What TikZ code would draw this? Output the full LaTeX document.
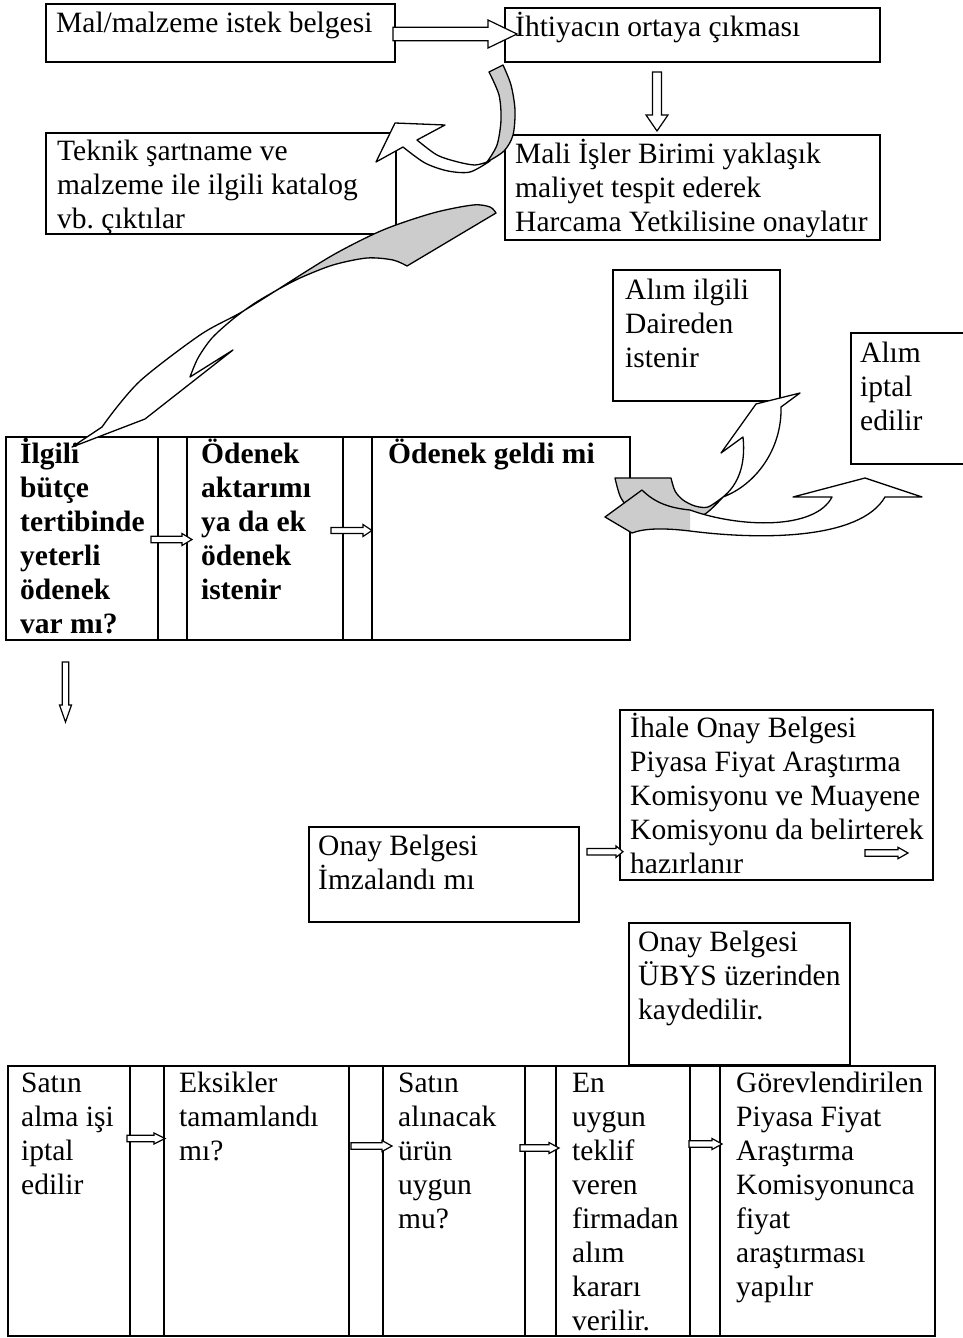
\documentclass[tikz,border=0pt]{standalone}
\usepackage{fontspec}
\setmainfont{Liberation Serif}
\newcommand\Rarr[6]{\draw[blk] (#1,{#3-#4}) -- ({#2-#6},{#3-#4}) -- ({#2-#6},{#3-#5}) -- (#2,#3) -- ({#2-#6},{#3+#5}) -- ({#2-#6},{#3+#4}) -- (#1,{#3+#4}) -- cycle;}
\newcommand\Darr[6]{\draw[blk] ({#3-#4},#1) -- ({#3-#4},{#2-#6}) -- ({#3-#5},{#2-#6}) -- (#3,#2) -- ({#3+#5},{#2-#6}) -- ({#3+#4},{#2-#6}) -- ({#3+#4},#1) -- cycle;}
\begin{document}
\begin{tikzpicture}[x=1pt,y=-1pt,
  box/.style={draw, line width=1.7pt, anchor=north west, inner sep=0pt, outer sep=0pt},
  txt/.style={anchor=base west, align=left, inner sep=0pt, font=\fontsize{29.5}{34}\selectfont},
  btxt/.style={anchor=base west, align=left, inner sep=0pt, font=\fontsize{29.5}{34}\selectfont\bfseries},
  blk/.style={draw, line width=1.2pt, fill=white, line join=miter},
  rib/.style={draw, line width=1.3pt, fill=white, line join=round},
  gr/.style={fill=gray!40}
]
\useasboundingbox (0,0) rectangle (963,1338);
\fill[white] (0,0) rectangle (963,1338);

% ---- boxes ----
\node[box, minimum width=349, minimum height=58] (bA) at (46,4) {};
\node[box, minimum width=375, minimum height=54] (bB) at (505,8) {};
\node[box, minimum width=375, minimum height=105] (bC) at (505,135) {};
\node[box, minimum width=350, minimum height=101] (bD) at (46,133) {};
% row 1
\node[box, minimum width=152, minimum height=203] (r1a) at (6,437) {};
\node[box, minimum width=29, minimum height=203] (r1g1) at (158,437) {};
\node[box, minimum width=156, minimum height=203] (r1b) at (187,437) {};
\node[box, minimum width=29, minimum height=203] (r1g2) at (343,437) {};
\node[box, minimum width=258, minimum height=203] (r1c) at (372,437) {};
\node[box, minimum width=167, minimum height=131] (bIlgili) at (613,270) {};
\node[box, minimum width=115, minimum height=131] (bIptal) at (851,333) {};
\node[box, minimum width=313, minimum height=170] (bIhale) at (620,710) {};
\node[box, minimum width=270, minimum height=95] (bImza) at (309,827) {};
\node[box, minimum width=221, minimum height=142] (bUbys) at (629,923) {};
% bottom row
\node[box, minimum width=122, minimum height=270] (r2a) at (8,1066) {};
\node[box, minimum width=34, minimum height=270] (r2g1) at (130,1066) {};
\node[box, minimum width=185, minimum height=270] (r2b) at (164,1066) {};
\node[box, minimum width=34, minimum height=270] (r2g2) at (349,1066) {};
\node[box, minimum width=142, minimum height=270] (r2c) at (383,1066) {};
\node[box, minimum width=31, minimum height=270] (r2g3) at (525,1066) {};
\node[box, minimum width=134, minimum height=270] (r2d) at (556,1066) {};
\node[box, minimum width=30, minimum height=270] (r2g4) at (690,1066) {};
\node[box, minimum width=215, minimum height=270] (r2e) at (720,1066) {};

% ---- texts (anchor = baseline of the last line) ----
\node[txt] (tA) at (56,33) {Mal/malzeme istek belgesi};
\node[txt] (tB) at (515,37) {İhtiyacın ortaya çıkması};
\node[txt] (tC) at (515,231) {Mali İşler Birimi yaklaşık\\maliyet tespit ederek\\Harcama Yetkilisine onaylatır};
\node[txt] (tD) at (57,228) {Teknik şartname ve\\malzeme ile ilgili katalog\\vb.\ çıktılar};
\node[btxt] (t1a) at (20,633) {İlgili\\bütçe\\tertibinde\\yeterli\\ödenek\\var mı?};
\node[btxt] (t1b) at (201,599) {Ödenek\\aktarımı\\ya da ek\\ödenek\\istenir};
\node[btxt] (t1c) at (388,463) {Ödenek geldi mi};
\node[txt] (tIlgili) at (625,367) {Alım ilgili\\Daireden\\istenir};
\node[txt] (tIptal) at (860,430) {Alım\\iptal\\edilir};
\node[txt] (tIhale) at (630,873) {İhale Onay Belgesi\\Piyasa Fiyat Araştırma\\Komisyonu ve Muayene\\Komisyonu da belirterek\\hazırlanır};
\node[txt] (tImza) at (318,889) {Onay Belgesi\\İmzalandı mı};
\node[txt] (tUbys) at (638,1019) {Onay Belgesi\\ÜBYS üzerinden\\kaydedilir.};
\node[txt] (t2a) at (21,1194) {Satın\\alma işi\\iptal\\edilir};
\node[txt] (t2b) at (179,1160) {Eksikler\\tamamlandı\\mı?};
\node[txt] (t2c) at (398,1228) {Satın\\alınacak\\ürün\\uygun\\mu?};
\node[txt] (t2d) at (572,1330) {En\\uygun\\teklif\\veren\\firmadan\\alım\\kararı\\verilir.};
\node[txt] (t2e) at (736,1296) {Görevlendirilen\\Piyasa Fiyat\\Araştırma\\Komisyonunca\\fiyat\\araştırması\\yapılır};

% ---- block arrows ----
\Rarr{393}{517}{34}{6.7}{14}{29}
\Darr{72}{131}{657}{4.5}{11}{16}
\Rarr{151}{192}{539.5}{3.3}{6}{10}
\Rarr{331}{372}{530.5}{3}{6}{9}
\Darr{662}{722}{65.5}{3.3}{6}{17}
\Rarr{587}{623}{851.7}{3.3}{5.7}{7}
\Rarr{865}{908}{853}{3.3}{5.7}{10}
\Rarr{127}{165}{1138.5}{3.3}{5.5}{11}
\Rarr{351}{392}{1146}{3.3}{5.5}{10}
\Rarr{520}{559}{1148}{3.3}{5.5}{10}
\Rarr{689}{722}{1144}{3.3}{5.5}{10}

% ---- top curved arrow ----
\draw[rib] plot[smooth] coordinates {(490,161) (470,172) (448,171) (425,163) (403,147)} -- (376,162) -- (395,123) -- (445,125) -- (417,140) -- plot[smooth] coordinates {(417,140) (437,155) (458,162) (475,165) (487,162)} -- cycle;
\draw[rib, gr] (489,72) -- plot[smooth] coordinates {(503,65) (511,85) (515,110) (513,135) (504,151) (487,162)} -- plot[smooth] coordinates {(487,162) (497,145) (501,120) (499,95) (489,72)} -- cycle;

% ---- big curved arrow ----
\draw[rib] plot[smooth] coordinates {(277,290) (240,313) (200,335) (140,381) (107,420)} -- (102,427) -- (72,447) -- (145,419) -- (233,350) -- (190,377) -- plot[smooth] coordinates {(190,377) (198,358) (212,338) (233,319) (255,303) (277,290)} -- cycle;
\draw[rib, gr] plot[smooth] coordinates {(277,290) (333,255) (383,230) (433,213) (473,205) (490,207) (496,213)} -- (407,266) -- plot[smooth] coordinates {(407,266) (393,260) (367,258) (333,265) (300,278) (277,290)} -- cycle;

% ---- right curved arrows ----
\draw[rib, gr] (615,478) -- (671,478) -- plot[smooth] coordinates {(671,478) (675,491) (683,500) (695,506) (708,507) (723,497)} -- plot[smooth] coordinates {(723,497) (705,514) (680,523) (655,523) (635,514) (621,498) (615,478)} -- cycle;
\fill[white] (605,517) -- (642,490) .. controls (655,503) and (670,508) .. (690,510) .. controls (740,528) and (815,530) .. (832,497) -- (793,497) -- (865,478) -- (922,497) -- (885,497) .. controls (860,540) and (760,540) .. (690,531) .. controls (665,528) and (645,528) .. (632,533) -- cycle;
\fill[gray!40] (605,517) -- (642,490) .. controls (655,503) and (670,508) .. (690,510) -- (690,531) .. controls (665,528) and (645,528) .. (632,533) -- cycle;
\draw[line width=1.3pt, line join=round] (605,517) -- (642,490) .. controls (655,503) and (670,508) .. (690,510) .. controls (740,528) and (815,530) .. (832,497) -- (793,497) -- (865,478) -- (922,497) -- (885,497) .. controls (860,540) and (760,540) .. (690,531) .. controls (665,528) and (645,528) .. (632,533) -- cycle;
\draw[rib] (723,497) .. controls (755,485) and (782,450) .. (781,407) -- (800,393) -- (756,404) -- (721,453) -- (743,437) .. controls (746,465) and (738,485) .. (723,497) -- cycle;
\end{tikzpicture}
\end{document}
